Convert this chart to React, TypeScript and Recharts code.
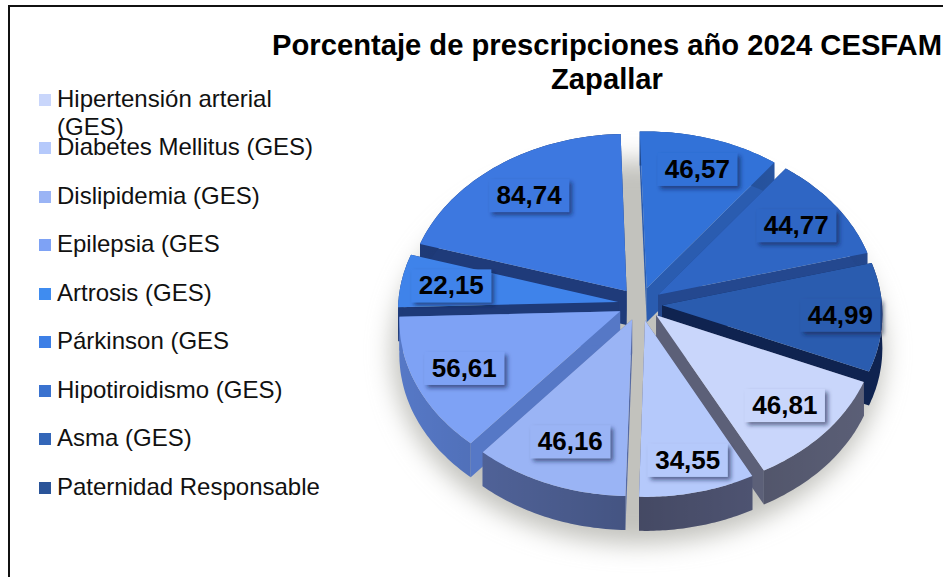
import { PieChart, Pie, Legend } from 'recharts';

const categories = [
  'Hipertensión arterial (GES)',
  'Diabetes Mellitus (GES)',
  'Dislipidemia (GES)',
  'Epilepsia (GES',
  'Artrosis (GES)',
  'Párkinson (GES',
  'Hipotiroidismo (GES)',
  'Asma (GES)',
  'Paternidad Responsable',
];
const values = [46.81, 34.55, 46.16, 56.61, 22.15, 84.74, 46.57, 44.77, 44.99];
const topColors = ['#c9d6fb', '#b5c9fb', '#9ab4f5', '#7ea2f5', '#3f83ea', '#3d78e0', '#3272d8', '#2f66c4', '#2a5caf'];
const legendColors = ['#c9d6fb', '#b5c9fb', '#9ab4f5', '#7ea2f5', '#3f8cf0', '#3d7fe6', '#3a72cf', '#3366b8', '#2a5499'];
const wallColors = ['#5c6078', '#585e80', '#566aa4', '#5678c6', '#1e3a78', '#1f3b7a', '#2a5cb0', '#24488f', '#0f2350'];
// back to front, so that nearer slices cover the cut faces of the ones behind
const paintOrder = [5, 6, 7, 4, 8, 3, 0, 2, 1];
const labelReach = [0.77, 0.82, 0.75, 0.77, 0.77, 0.755, 0.79, 0.775, 0.81];

const table = categories.map((name, i) => ({ name, value: values[i] }));

const ASPECT = 0.755;
const PERSPECTIVE = 0.05;
const EXPLODE = 0.1;
const DEPTH = 34;

function project(cx: number, cy: number, r: number, u: number, v: number) {
  const w = 1 - PERSPECTIVE * v;
  return [cx + (r * u) / w, cy + (r * ASPECT * v) / w];
}

function toPath(points: number[][]) {
  return 'M' + points.map((p) => p[0].toFixed(1) + ',' + p[1].toFixed(1)).join('L') + 'Z';
}

function Slice(props: any) {
  const { cx, cy, outerRadius, startAngle, endAngle, index } = props;
  const rad = Math.PI / 180;
  const mid = ((startAngle + endAngle) / 2) * rad;
  const ou = EXPLODE * Math.cos(mid);
  const ov = -EXPLODE * Math.sin(mid);
  const apex = project(cx, cy, outerRadius, ou, ov);
  const arc: number[][] = [];
  const steps = 40;
  for (let s = 0; s <= steps; s++) {
    const a = (startAngle + ((endAngle - startAngle) * s) / steps) * rad;
    arc.push(project(cx, cy, outerRadius, ou + Math.cos(a), ov - Math.sin(a)));
  }
  const down = (p: number[]) => [p[0], p[1] + DEPTH];
  const first = arc[0];
  const last = arc[arc.length - 1];
  const outerWall = toPath([...arc, ...arc.map(down).reverse()]);
  return (
    <g>
      <path d={toPath([apex, first, down(first), down(apex)])} fill={wallColors[index]} />
      <path d={toPath([apex, last, down(last), down(apex)])} fill={wallColors[index]} />
      <path d={outerWall} fill={wallColors[index]} />
      <path d={outerWall} fill="url(#wallShade)" />
      <path d={toPath([apex, ...arc])} fill={topColors[index]} />
    </g>
  );
}

function ValueLabel(props: any) {
  const { cx, cy, outerRadius, midAngle, index } = props;
  const rad = Math.PI / 180;
  const reach = labelReach[index] + EXPLODE;
  const [x, y] = project(cx, cy, outerRadius, reach * Math.cos(midAngle * rad), -reach * Math.sin(midAngle * rad));
  return (
    <g>
      <rect x={x - 40} y={y - 16} width={80} height={33} fill={topColors[index]} filter="url(#labelShadow)" />
      <text
        x={x}
        y={y + 9}
        textAnchor="middle"
        fontFamily="'Liberation Sans', Arial, sans-serif"
        fontWeight="bold"
        fontSize={26}
        fill="#000"
      >
        {values[index].toFixed(2).replace('.', ',')}
      </text>
    </g>
  );
}

function LegendRows() {
  return (
    <div style={{ position: 'relative', width: 0, height: 0 }}>
      {categories.map((name, i) => (
        <div key={name} style={{ position: 'absolute', left: 39, top: 84.5 + i * 48.5, display: 'flex' }}>
          <span style={{ width: 12, height: 12, marginTop: 9, marginRight: 6, background: legendColors[i], flex: 'none' }} />
          <span style={{ width: 270, fontSize: 24, lineHeight: '28px', color: '#111', fontFamily: "'Liberation Sans', Arial, sans-serif" }}>
            {name}
          </span>
        </div>
      ))}
    </div>
  );
}

export default function App() {
  const titleFont = "'Liberation Sans', Arial, sans-serif";
  return (
    <div style={{ position: 'absolute', left: 0, top: 0, width: 943, height: 577, overflow: 'hidden', background: '#fff' }}>
      <div style={{ position: 'absolute', left: 8, top: 5, width: 1200, height: 900, border: '2px solid #111' }} />
      <div style={{ position: 'absolute', left: 0, top: 0 }}>
        <PieChart width={943} height={577} margin={{ top: 0, right: 0, bottom: 0, left: 0 }}>
          <defs>
            <filter id="floorBlur" x="-20%" y="-20%" width="140%" height="140%">
              <feGaussianBlur stdDeviation="12" />
            </filter>
            <filter id="labelShadow" x="-20%" y="-30%" width="150%" height="170%">
              <feDropShadow dx="3" dy="3" stdDeviation="2" floodColor="#14204a" floodOpacity="0.6" />
            </filter>
            <linearGradient id="wallShade" gradientUnits="userSpaceOnUse" x1={400} y1={0} x2={880} y2={0}>
              <stop offset="0%" stopColor="#000" stopOpacity={0} />
              <stop offset="50%" stopColor="#000" stopOpacity={0.22} />
              <stop offset="100%" stopColor="#000" stopOpacity={0} />
            </linearGradient>
          </defs>
          <ellipse cx={638} cy={352} rx={246} ry={192} fill="#c2c2bd" filter="url(#floorBlur)" />
          <text x={607} y={55} textAnchor="middle" fontFamily={titleFont} fontWeight="bold" fontSize={29.2} fill="#000">
            Porcentaje de prescripciones año 2024 CESFAM
          </text>
          <text x={607} y={89} textAnchor="middle" fontFamily={titleFont} fontWeight="bold" fontSize={29.2} fill="#000">
            Zapallar
          </text>
          {paintOrder.map((layer) => (
            <Pie
              key={layer}
              data={table}
              dataKey="value"
              nameKey="name"
              cx={640}
              cy={304}
              innerRadius={0}
              outerRadius={220}
              startAngle={-23}
              endAngle={-383}
              stroke="none"
              legendType={layer === 0 ? 'square' : 'none'}
              isAnimationActive={false}
              shape={(p: any) => (p.index === layer ? <Slice {...p} index={layer} /> : <g />)}
            />
          ))}
          <Pie
            data={table}
            dataKey="value"
            nameKey="name"
            cx={640}
            cy={304}
            innerRadius={0}
            outerRadius={220}
            startAngle={-23}
            endAngle={-383}
            stroke="none"
            legendType="none"
            isAnimationActive={false}
            shape={() => <g />}
            labelLine={false}
            label={(p: any) => <ValueLabel {...p} />}
          />
          <Legend layout="vertical" align="left" verticalAlign="top" wrapperStyle={{ left: 0, top: 0 }} content={() => <LegendRows />} />
        </PieChart>
      </div>
    </div>
  );
}
